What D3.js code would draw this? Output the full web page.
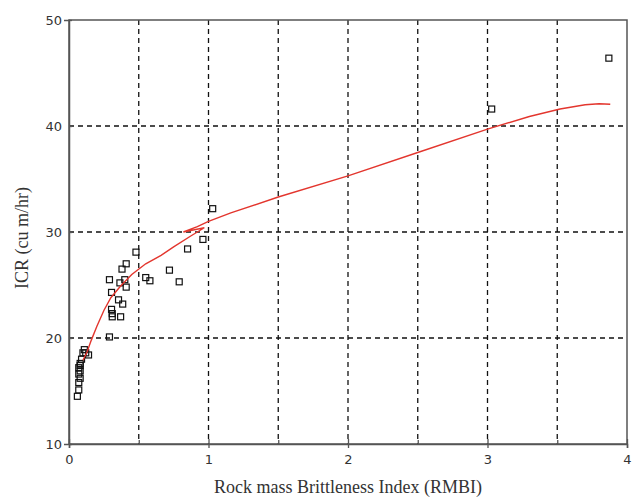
<!DOCTYPE html>
<html>
<head>
<meta charset="utf-8">
<script src="https://cdn.jsdelivr.net/npm/d3@7"></script>
<style>
  html, body { margin: 0; padding: 0; background: #fff; }
  svg { display: block; }
</style>
</head>
<body>
<svg id="chart" width="638" height="497"></svg>
<script>
// Observed RMBI vs ICR measurements
const rmbi = [0.06, 0.07, 0.07, 0.08, 0.07, 0.08, 0.07, 0.08, 0.08, 0.09, 0.10, 0.11, 0.12, 0.14,
  0.29, 0.31, 0.31, 0.305, 0.37, 0.385, 0.355, 0.305, 0.41, 0.365, 0.40, 0.29, 0.38, 0.41, 0.48,
  0.55, 0.58, 0.72, 0.79, 0.85, 0.96, 1.03, 3.03, 3.87];
const icr = [14.5, 15.1, 15.8, 16.2, 16.6, 16.9, 17.2, 17.4, 17.6, 18.0, 18.6, 18.9, 18.6, 18.4,
  20.1, 22.0, 22.3, 22.7, 22.0, 23.2, 23.6, 24.3, 24.8, 25.2, 25.5, 25.5, 26.5, 27.0, 28.1,
  25.7, 25.4, 26.4, 25.3, 28.4, 29.3, 32.2, 41.6, 46.4];

// Fitted trend line, in drawing order
const fitX = [0.10, 0.13, 0.16, 0.20, 0.25, 0.30, 0.37, 0.45, 0.55, 0.66, 0.75, 0.87, 0.97,
  0.82, 0.92, 1.00, 1.16, 1.50, 2.00, 2.50, 3.00, 3.30, 3.52, 3.70, 3.80, 3.88];
const fitY = [17.9, 18.7, 19.8, 21.1, 22.6, 23.8, 24.9, 26.0, 27.0, 27.8, 28.6, 29.6, 30.4,
  30.0, 30.5, 31.0, 31.8, 33.3, 35.3, 37.5, 39.7, 40.9, 41.6, 42.0, 42.1, 42.05];

const xTicks = [0, 1, 2, 3, 4];
const xMinorTicks = [0.5, 1.5, 2.5, 3.5];
const yTicks = [10, 20, 30, 40, 50];
const xGrid = [0.5, 1, 1.5, 2, 2.5, 3, 3.5];
const yGrid = [20, 30, 40];

const svg = d3.select("#chart");
const plot = { left: 69, right: 627, top: 20, bottom: 444 };

const x = d3.scaleLinear().domain([0, 4]).range([plot.left, plot.right]);
const y = d3.scaleLinear().domain([10, 50]).range([plot.bottom, plot.top]);

// dashed grid
const grid = svg.append("g").attr("stroke", "#111").attr("stroke-width", 1.3)
  .attr("stroke-dasharray", "5,4");
grid.selectAll(".gx").data(xGrid).join("line")
  .attr("x1", d => x(d)).attr("x2", d => x(d))
  .attr("y1", plot.top).attr("y2", plot.bottom);
grid.selectAll(".gy").data(yGrid).join("line")
  .attr("x1", plot.left).attr("x2", plot.right)
  .attr("y1", d => y(d)).attr("y2", d => y(d));

// frame
svg.append("rect").attr("x", plot.left).attr("y", plot.top)
  .attr("width", plot.right - plot.left).attr("height", plot.bottom - plot.top)
  .attr("fill", "none").attr("stroke", "#555").attr("stroke-width", 1.5);

// axes
const xAxis = svg.append("g").attr("transform", `translate(0,${plot.bottom})`)
  .call(d3.axisBottom(x).tickValues(xTicks).tickFormat(d3.format("d")).tickSize(4).tickPadding(7));
xAxis.selectAll(".tick line").attr("y1", -5);
svg.append("g").attr("transform", `translate(0,${plot.bottom})`)
  .call(d3.axisTop(x).tickValues(xMinorTicks).tickSize(4).tickFormat(""))
  .call(g => g.select(".domain").remove());

const yAxis = svg.append("g").attr("transform", `translate(${plot.left},0)`)
  .call(d3.axisLeft(y).tickValues(yTicks).tickFormat(d3.format("d")).tickSize(5).tickPadding(2));
yAxis.selectAll(".tick line").attr("x2", 3);

svg.selectAll(".domain").attr("stroke", "#555").attr("stroke-width", 1.5);
svg.selectAll(".tick line").attr("stroke", "#555").attr("stroke-width", 1.3);
svg.selectAll(".tick text").attr("font-family", "DejaVu Sans, Verdana, sans-serif")
  .attr("font-size", 13).attr("fill", "#333");

// data squares
const sz = 6;
svg.append("g").selectAll("rect").data(rmbi.map((v, i) => [v, icr[i]])).join("rect")
  .attr("x", d => x(d[0]) - sz / 2).attr("y", d => y(d[1]) - sz / 2)
  .attr("width", sz).attr("height", sz)
  .attr("fill", "none").attr("stroke", "#111").attr("stroke-width", 1.2);

// trend line
const line = d3.line().x(d => x(d[0])).y(d => y(d[1])).curve(d3.curveLinear);
svg.append("path").datum(fitX.map((v, i) => [v, fitY[i]]))
  .attr("d", line).attr("fill", "none").attr("stroke", "#e3362e").attr("stroke-width", 1.4);

// axis titles
svg.append("text").attr("x", 348).attr("y", 493)
  .attr("text-anchor", "middle").attr("font-family", "Liberation Serif, Times New Roman, serif")
  .attr("font-size", 18).attr("fill", "#333").text("Rock mass Brittleness Index (RMBI)");
svg.append("text").attr("transform", `translate(28,238) rotate(-90)`)
  .attr("text-anchor", "middle").attr("font-family", "Liberation Serif, Times New Roman, serif")
  .attr("font-size", 18).attr("fill", "#333").text("ICR (cu m/hr)");
</script>
</body>
</html>
